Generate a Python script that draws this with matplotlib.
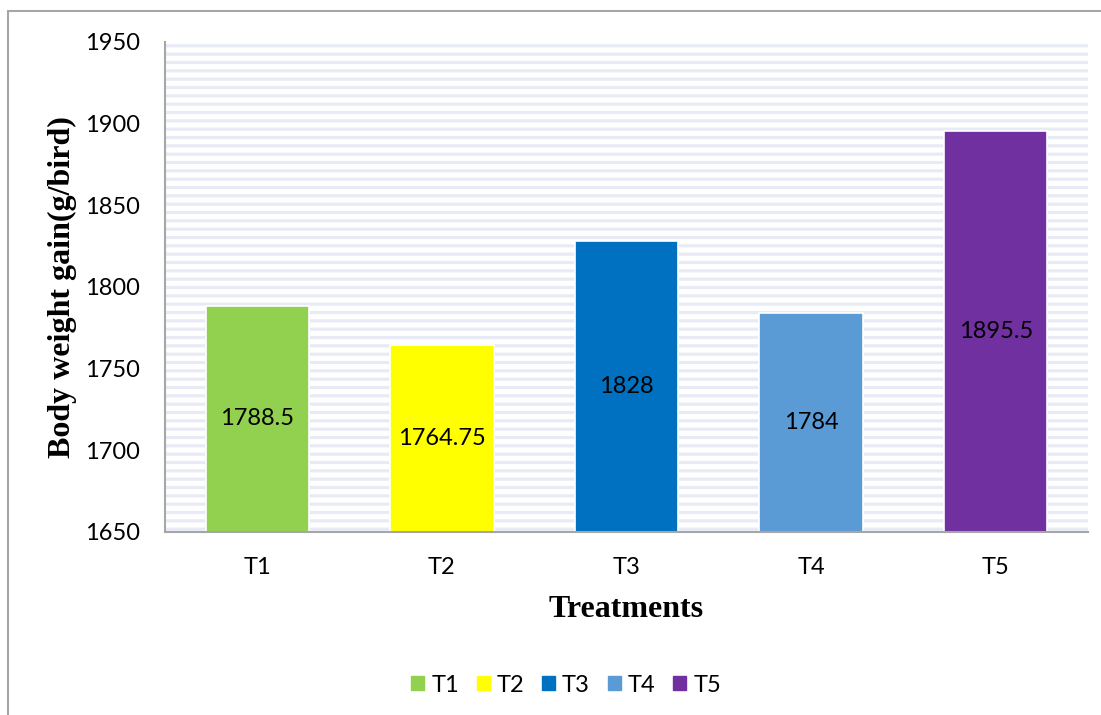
import matplotlib.pyplot as plt
from matplotlib.patches import Rectangle

# data
treatments = ["T1", "T2", "T3", "T4", "T5"]
gain = [1788.5, 1764.75, 1828, 1784, 1895.5]
value_labels = ["1788.5", "1764.75", "1828", "1784", "1895.5"]
colors = ["#92D050", "#FFFF00", "#0070C0", "#5B9BD5", "#7030A0"]
y_ticks = [1650, 1700, 1750, 1800, 1850, 1900, 1950]

base = 1650
tick_font = ["Lato", "DejaVu Sans"]
plt.rcParams["hatch.linewidth"] = 2.3

fig = plt.figure(figsize=(11.01, 7.15), dpi=100)
ax = fig.add_axes([165 / 1101, 1 - 532 / 715, 923 / 1101, 490 / 715])

# outer chart border
fig.patches.append(Rectangle((8 / 1101, -0.05), 1.2, 1 - 11 / 715 + 0.05,
                             transform=fig.transFigure, fill=False,
                             edgecolor="#A6A6A6", linewidth=1.5))

# striped plot background
ax.add_patch(Rectangle((0, 0), 1, 1, transform=ax.transAxes, facecolor="white",
                       edgecolor="#E8EBF5", hatch="--", linewidth=0, zorder=0))

x = range(len(treatments))
heights = [v - base for v in gain]
bars = ax.bar(x, heights, bottom=base, width=0.56, color=colors,
              edgecolor="white", linewidth=1.2, zorder=2)

for i, b in enumerate(bars):
    ax.text(i, base + heights[i] / 2, value_labels[i], ha="center", va="center",
            fontsize=17, family=tick_font, color="black", zorder=3)

ax.set_xlim(-0.5, len(treatments) - 0.5)
ax.set_ylim(1650, 1950)
ax.set_yticks(y_ticks)
ax.set_xticks(list(x))
ax.set_xticklabels(treatments)
ax.tick_params(length=0, labelsize=17)
ax.tick_params(axis="y", pad=18)
ax.tick_params(axis="x", pad=18)
for lbl in ax.get_xticklabels() + ax.get_yticklabels():
    lbl.set_family(tick_font)

for s in ["top", "right"]:
    ax.spines[s].set_visible(False)
for s in ["left", "bottom"]:
    ax.spines[s].set_color("#A6A6A6")
    ax.spines[s].set_linewidth(1.5)

ax.set_ylabel("Body weight gain(g/bird)", family="Liberation Serif",
              fontweight="bold", fontsize=23, labelpad=6)
ax.set_xlabel("Treatments", family="Liberation Serif", fontweight="bold",
              fontsize=23, labelpad=12)

handles = [Rectangle((0, 0), 1, 1, color=c) for c in colors]
fig.legend(handles, treatments, loc="center", bbox_to_anchor=(566 / 1101, 1 - 685 / 715),
           ncol=5, frameon=False, prop={"family": tick_font, "size": 17},
           handlelength=0.55, handleheight=0.55, handletextpad=0.3, columnspacing=0.75)

fig.savefig("out.png", dpi=100)
